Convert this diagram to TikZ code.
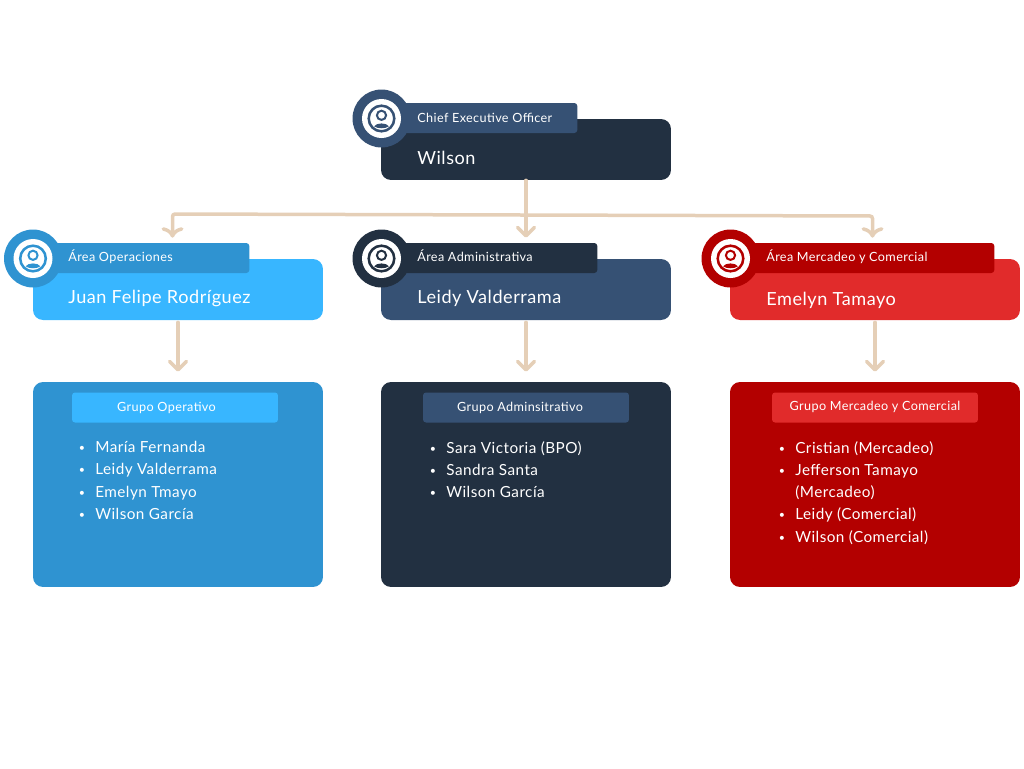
\documentclass[tikz,border=0pt]{standalone}
\usepackage{fontspec}
\setmainfont[LetterSpace=3]{Lato}
\usetikzlibrary{arrows.meta}

\definecolor{navy}{HTML}{223041}
\definecolor{slateblue}{HTML}{365174}
\definecolor{skyblue}{HTML}{38B6FF}
\definecolor{midblue}{HTML}{2F93D1}
\definecolor{brightred}{HTML}{E12B2B}
\definecolor{darkred}{HTML}{B30000}
\definecolor{flowtan}{HTML}{E5CFB7}

\tikzset{
  namebox/.style={rounded corners=0.2cm, minimum width=5.8cm, minimum height=1.22cm, inner sep=0pt},
  groupbox/.style={rounded corners=0.2cm, minimum width=5.8cm, minimum height=4.1cm, inner sep=0pt},
  grouptag/.style={rounded corners=0.06cm, minimum width=4.12cm, minimum height=0.6cm, inner sep=0pt},
  grouptext/.style={inner sep=0pt, text=white, font=\fontsize{7.2}{9}\selectfont},
  roletag/.style={rounded corners=0.06cm, minimum height=0.6cm, inner sep=0pt, anchor=west},
  roletext/.style={anchor=west, inner sep=0pt, text=white, font=\fontsize{7.2}{9}\selectfont},
  nametext/.style={anchor=west, inner sep=0pt, text=white, font=\fontsize{10.3}{12}\selectfont},
  listtext/.style={anchor=north west, inner sep=0pt, text=white, align=left, font=\fontsize{8.7}{12.65}\selectfont},
  flowarrow/.style={draw=flowtan, line width=0.07cm, line cap=round, -{Straight Barb[length=0.17cm, width=0.34cm, round]}},
  pics/usericon/.style={code={
    \fill[#1] (0,0) circle[radius=29];
    \fill[white] (0,0) circle[radius=19.5];
    \draw[#1, line width=0.05cm] (0,0) circle[radius=12.8];
    \draw[#1, line width=0.04cm] (0,-3.2) circle[radius=4.6];
    \fill[#1] (-7.4,7.8) .. controls (-5,4) and (5,4) .. (7.4,7.8) .. controls (4,10.4) and (-4,10.4) .. (-7.4,7.8) -- cycle;
  }}
}

\newcommand{\bulletrow}[1]{\makebox[0.33cm][l]{\raisebox{0.02cm}{\scalebox{0.7}{\textbullet}}}#1}

\begin{document}
\begin{tikzpicture}[x=0.02cm, y=-0.02cm]
  \useasboundingbox (0, 0) rectangle (1024, 768);

  % top box
  \node[namebox, fill=navy] (ceobox) at (526, 149.5) {};
  \node[roletag, fill=slateblue, minimum width=3.54cm] (ceotag) at (400, 118) {};
  \pic at (381.5, 118.5) {usericon=slateblue};
  \node[roletext] (ceorole) at (417, 117.5) {Chief Executive Officer};
  \node[nametext] (ceoname) at (417, 158) {Wilson};

  % area boxes
  \node[namebox, fill=skyblue] (opbox) at (178, 289.5) {};
  \node[roletag, fill=midblue, minimum width=4cm] (optag) at (49, 258) {};
  \pic at (33, 258.5) {usericon=midblue};
  \node[roletext] (oprole) at (68, 257) {Área Operaciones};
  \node[nametext] (opname) at (68, 298.5) {Juan Felipe Rodríguez};

  \node[namebox, fill=slateblue] (adminbox) at (526, 289.5) {};
  \node[roletag, fill=navy, minimum width=3.94cm] (admintag) at (400, 258) {};
  \pic at (381.5, 258.5) {usericon=navy};
  \node[roletext] (adminrole) at (417, 256) {Área Administrativa};
  \node[nametext] (adminname) at (417, 298.5) {Leidy Valderrama};

  \node[namebox, fill=brightred] (redbox) at (875, 289.5) {};
  \node[roletag, fill=darkred, minimum width=4.9cm] (redtag) at (749, 258) {};
  \pic at (730.5, 258.5) {usericon=darkred};
  \node[roletext] (redrole) at (766, 257) {Área Mercadeo y Comercial};
  \node[nametext] (redname) at (766, 300.5) {Emelyn Tamayo};

  % group boxes
  \node[groupbox, fill=midblue] (opgroup) at (178, 484.5) {};
  \node[grouptag, fill=skyblue] (opgrouptag) at (175, 407.5) {};
  \node[grouptext] (opgrouptext) at (166.5, 408) {Grupo Operativo};
  \node[listtext] (oplist) at (78.5, 441) {\bulletrow{María Fernanda}\\\bulletrow{Leidy Valderrama}\\\bulletrow{Emelyn Tmayo}\\\bulletrow{Wilson García}};

  \node[groupbox, fill=navy] (admingroup) at (526, 484.5) {};
  \node[grouptag, fill=slateblue] (admingrouptag) at (526, 407.5) {};
  \node[grouptext] (admingrouptext) at (520, 408) {Grupo Adminsitrativo};
  \node[listtext] (adminlist) at (429.5, 441) {\bulletrow{Sara Victoria (BPO)}\\\bulletrow{Sandra Santa}\\\bulletrow{Wilson García}};

  \node[groupbox, fill=darkred] (redgroup) at (875, 484.5) {};
  \node[grouptag, fill=brightred] (redgrouptag) at (875, 407.5) {};
  \node[grouptext] (redgrouptext) at (875, 407) {Grupo Mercadeo y Comercial};
  \node[listtext] (redlist) at (778.5, 441) {\bulletrow{Cristian (Mercadeo)}\\\bulletrow{Jefferson Tamayo}\\\hspace{0.33cm}(Mercadeo)\\\bulletrow{Leidy (Comercial)}\\\bulletrow{Wilson (Comercial)}};

  % connectors
  \coordinate (busleft) at (172.5, 214);
  \coordinate (busright) at (872.5, 216);
  \draw[flowarrow, shorten >=0.1cm] (ceobox.south) -- (ceobox.south |- admintag.north);
  \draw[flowarrow, <->, rounded corners=0.05cm, shorten >=0.1cm, shorten <=0.1cm] (busleft |- optag.north) -- (busleft) -- (busright) -- (busright |- redtag.north);
  \draw[flowarrow, shorten >=0.2cm, shorten <=0.04cm] (opbox.south) -- (opgroup.north);
  \draw[flowarrow, shorten >=0.2cm, shorten <=0.04cm] (adminbox.south) -- (admingroup.north);
  \draw[flowarrow, shorten >=0.2cm, shorten <=0.04cm] (redbox.south) -- (redgroup.north);
\end{tikzpicture}
\end{document}
